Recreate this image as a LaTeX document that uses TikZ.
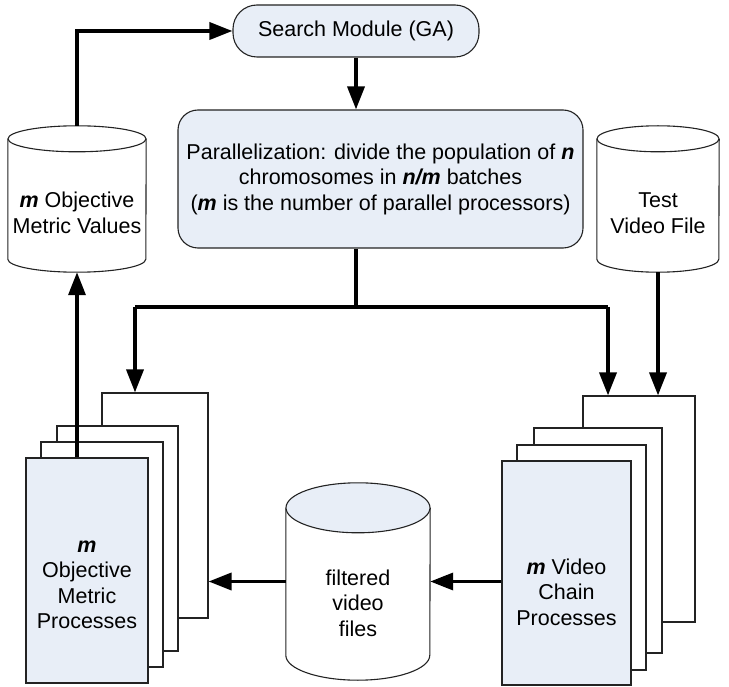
\documentclass[tikz,border=0pt]{standalone}
\usepackage{fontspec}
\setmainfont{Liberation Sans}
\usetikzlibrary{arrows.meta}
\definecolor{lblue}{RGB}{232,238,247}
\definecolor{edgecol}{RGB}{35,35,35}
\newcommand{\bim}[1]{\textbf{\textit{#1}}}
\tikzset{
  edgeline/.style={draw=edgecol, line width=1.1pt},
  txt/.style={font=\fontsize{21.5pt}{25.5pt}\selectfont, align=center, inner sep=0pt},
  procbox/.style={edgeline, fill=white, inner sep=0pt},
  frontbox/.style={procbox, fill=lblue},
  cylbox/.style={draw=none, inner sep=0pt},
  arr/.style={line width=3.5pt, -{Triangle[length=23pt,width=17pt]}},
  conn/.style={line width=3.5pt}
}
\newcommand{\drawcyl}[4]{%
  \fill[white] ([yshift=-#3]#1.north west) -- ([yshift=#3]#1.south west)
     arc[start angle=180,end angle=360,x radius=#2,y radius=#3]
     -- ([yshift=-#3]#1.north east) -- cycle;
  \draw[edgeline] ([yshift=-#3]#1.north west) -- ([yshift=#3]#1.south west)
     arc[start angle=180,end angle=360,x radius=#2,y radius=#3]
     -- ([yshift=-#3]#1.north east);
  \draw[edgeline, fill=#4] ([yshift=-#3]#1.north) ellipse [x radius=#2, y radius=#3];
}
\begin{document}
\begin{tikzpicture}[x=1pt, y=-1pt]
\useasboundingbox (0,0) rectangle (729,687);

% top boxes
\node[txt, edgeline, fill=lblue, rounded corners=24pt, minimum width=246pt, minimum height=52pt] (search) at (356,31) {Search Module (GA)};
\node[txt, edgeline, fill=lblue, rounded corners=20pt, minimum width=405pt, minimum height=138pt] (para) at (380.5,179)
  {Parallelization: divide the population of \bim{n}\\chromosomes in \bim{n/m} batches\\(\bim{m} is the number of parallel processors)};

% cylinders
\node[cylbox, minimum width=138pt, minimum height=146pt] (lcyl) at (77,199) {};
\drawcyl{lcyl}{69pt}{13pt}{white}
\node[txt] (lcylT) at (77,213) {\bim{m} Objective\\Metric Values};

\node[cylbox, minimum width=122pt, minimum height=146pt] (tcyl) at (658,199) {};
\drawcyl{tcyl}{61pt}{13pt}{white}
\node[txt] (tcylT) at (658,213) {Test\\Video File};

\node[cylbox, minimum width=144pt, minimum height=197pt] (fcyl) at (358,581.5) {};
\drawcyl{fcyl}{72pt}{25pt}{lblue}
\node[txt] (fcylT) at (358,603) {filtered\\video\\files};

% left stack
\node[procbox, minimum width=106pt, minimum height=225pt] (L4) at (155,505.5) {};
\node[procbox, minimum width=121pt, minimum height=225pt] (L3) at (117.5,538.5) {};
\node[procbox, minimum width=122pt, minimum height=225pt] (L2) at (102,554.5) {};
\node[frontbox, minimum width=122pt, minimum height=225pt] (L1) at (87,570.5) {};
\node[txt] (L1T) at (87,585) {\bim{m}\\ Objective\\Metric\\Processes};

% right stack
\node[procbox, minimum width=112pt, minimum height=226pt] (R4) at (639,509) {};
\node[procbox, minimum width=128pt, minimum height=225pt] (R3) at (598,540.5) {};
\node[procbox, minimum width=129pt, minimum height=225pt] (R2) at (581.5,557.5) {};
\node[frontbox, minimum width=129pt, minimum height=224pt] (R1) at (566.5,573) {};
\node[txt] (R1T) at (566.5,592) {\bim{m} Video\\Chain\\Processes};

% connectors
\coordinate (dy) at (356,307);
\coordinate (ldrop) at (135,307);
\coordinate (rdrop) at (608,307);

\draw[arr] (lcyl.north) |- (search.west);
\draw[arr] (search.south) -- (search.south |- para.north);
\draw[conn] (search.south |- para.south) -- (dy);
\draw[conn] (ldrop) -- (rdrop);
\draw[arr] (ldrop) -- (ldrop |- L4.north);
\draw[arr] (rdrop) -- (rdrop |- R4.north);
\draw[arr] (tcyl.south) -- (tcyl.south |- R4.north);
\draw[arr] (L1.north -| lcyl.south) -- (lcyl.south);
\draw[arr] (fcyl.east -| R1.west) -- (fcyl.east);
\draw[arr] (fcyl.west) -- (fcyl.west -| L4.east);
\end{tikzpicture}
\end{document}
